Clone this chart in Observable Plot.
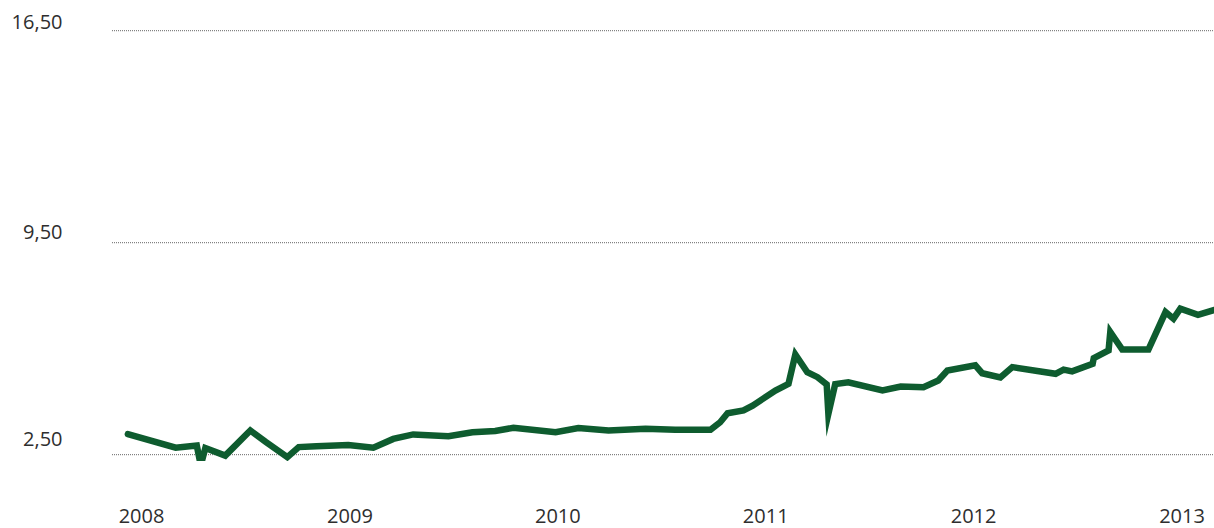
<!DOCTYPE html>
<html>
<head>
<meta charset="utf-8">
<script src="https://cdn.jsdelivr.net/npm/d3@7"></script>
<script src="https://cdn.jsdelivr.net/npm/@observablehq/plot@0.6"></script>
<style>
  html, body { margin: 0; padding: 0; background: #fff; }
  #chart svg { display: block; }
</style>
</head>
<body>
<div id="chart"></div>
<script>
const dates = [
  "2007-12-08","2008-03-01","2008-04-07","2008-04-14","2008-04-22","2008-05-27",
  "2008-07-10","2008-08-06","2008-09-13","2008-10-03","2008-11-03","2008-12-29",
  "2009-02-11","2009-03-18","2009-04-22","2009-06-23","2009-08-04","2009-09-13",
  "2009-10-15","2009-12-28","2010-02-06","2010-03-31","2010-06-04","2010-07-26",
  "2010-09-26","2010-10-13","2010-10-26","2010-11-23","2010-12-09","2011-01-18",
  "2011-02-10","2011-02-22","2011-03-15","2011-04-02","2011-04-18","2011-04-21",
  "2011-05-03","2011-05-26","2011-07-25","2011-08-26","2011-10-05","2011-10-31",
  "2011-11-16","2012-01-04","2012-01-16","2012-02-17","2012-03-09","2012-05-24",
  "2012-06-07","2012-06-22","2012-07-28","2012-07-30","2012-08-25","2012-08-28",
  "2012-09-18","2012-11-03","2012-12-03","2012-12-17","2012-12-29","2013-01-29",
  "2013-02-27"
];
const values = [
  3.18, 2.73, 2.80, 2.15, 2.72, 2.47,
  3.30, 2.92, 2.42, 2.75, 2.78, 2.82,
  2.73, 3.02, 3.17, 3.11, 3.24, 3.28,
  3.39, 3.24, 3.38, 3.30, 3.36, 3.32,
  3.32, 3.57, 3.87, 3.96, 4.12, 4.62,
  4.84, 5.81, 5.22, 5.06, 4.82, 3.85,
  4.83, 4.89, 4.62, 4.75, 4.73, 4.95,
  5.28, 5.45, 5.19, 5.05, 5.39, 5.17,
  5.31, 5.25, 5.50, 5.69, 5.94, 6.55,
  5.97, 5.97, 7.21, 6.99, 7.32, 7.12,
  7.28
];
const yTicks = [2.5, 9.5, 16.5];
const yTickLabels = ["2,50", "9,50", "16,50"];
const tickYears = [2008, 2009, 2010, 2011, 2012, 2013];

const data = dates.map((d, i) => ({date: new Date(d + "T00:00:00Z"), value: values[i]}));
const yearDates = tickYears.map(y => new Date(Date.UTC(y, 0, 1)));
const fmtY = v => yTickLabels[yTicks.indexOf(v)];

const textStyle = {fill: "#2e2e2e", stroke: "#2e2e2e", strokeWidth: 0.3, fontSize: 20, fontFamily: "Open Sans", tickSize: 0, label: null, letterSpacing: 1};

const chart = Plot.plot({
  width: 1214,
  height: 528,
  marginLeft: 112,
  marginRight: 0,
  marginTop: 0,
  marginBottom: 67,
  style: {fontFamily: "Open Sans", fontSize: "20px", color: "#2e2e2e", background: "#fff"},
  x: {type: "utc", domain: [new Date(Date.UTC(2007, 10, 11)), new Date(Date.UTC(2013, 1, 27))], label: null},
  y: {domain: [2.275, 17.497], label: null},
  marks: [
    Plot.ruleY(yTicks, {stroke: "#666", strokeWidth: 1, strokeDasharray: "1,1"}),
    Plot.lineY(data, {
      x: "date", y: "value",
      stroke: "#0e5c2f", strokeWidth: 6.5,
      strokeLinejoin: "miter", strokeMiterlimit: 10,
      clip: true
    }),
    Plot.axisX(yearDates, {...textStyle, tickPadding: 47, tickFormat: d => String(d.getUTCFullYear())}),
    Plot.axisY([2.5], {...textStyle, tickPadding: 50, dy: -14.6, tickFormat: fmtY}),
    Plot.axisY([9.5], {...textStyle, tickPadding: 50, dy: -10.3, tickFormat: fmtY}),
    Plot.axisY([16.5], {...textStyle, tickPadding: 50, dy: -8.6, tickFormat: fmtY})
  ]
});
document.getElementById("chart").appendChild(chart);
</script>
</body>
</html>
